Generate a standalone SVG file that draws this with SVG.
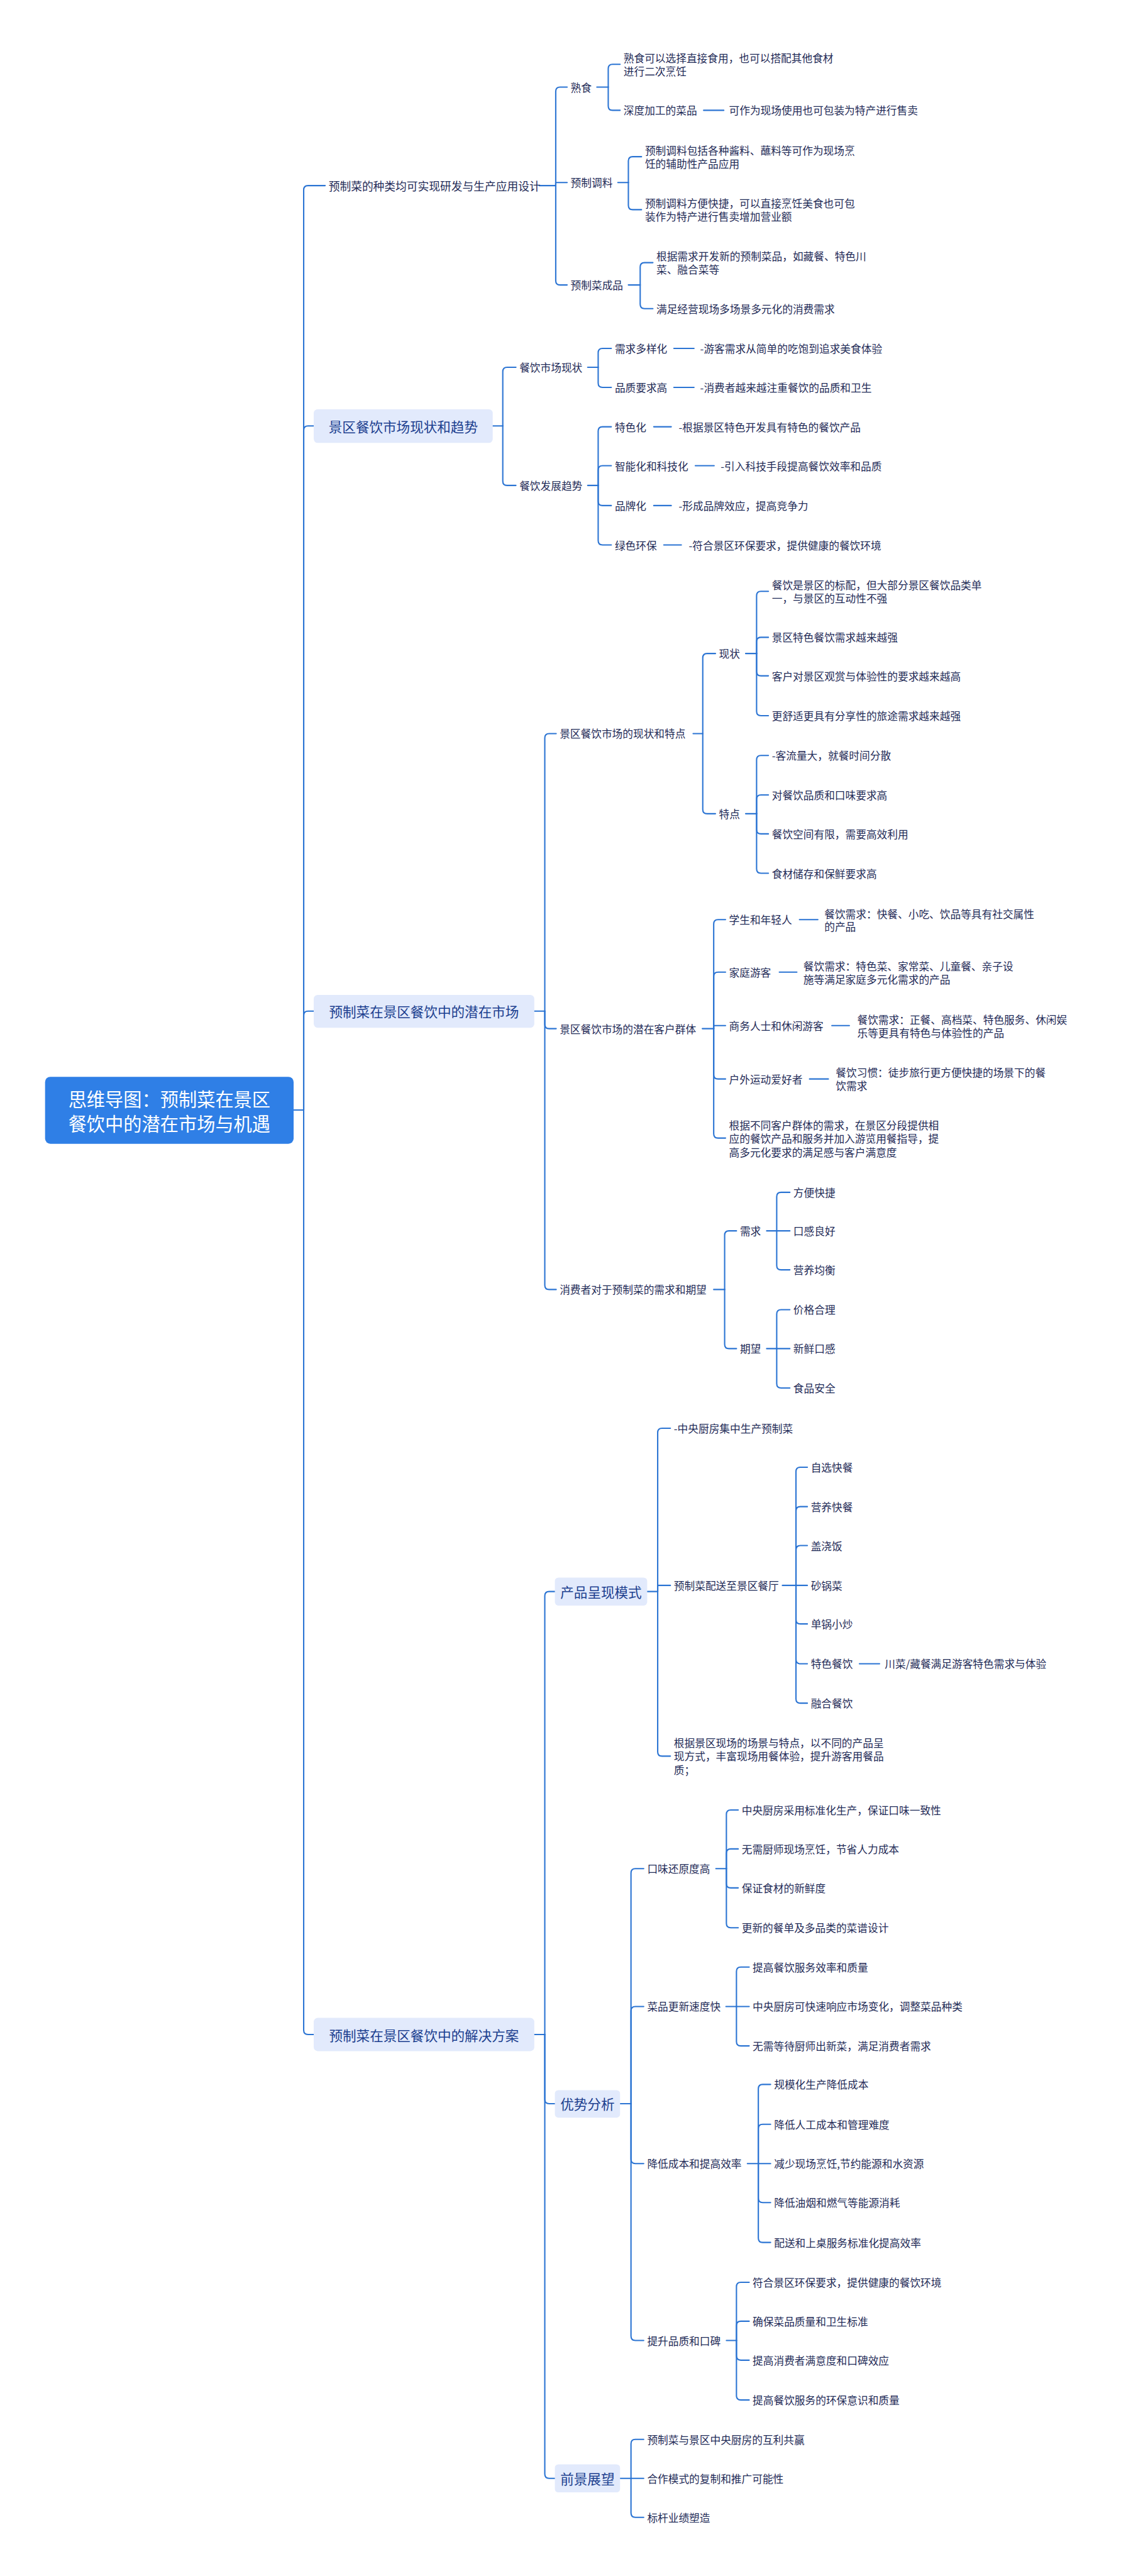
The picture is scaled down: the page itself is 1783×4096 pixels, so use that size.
<svg xmlns="http://www.w3.org/2000/svg" width="1783" height="4096" viewBox="0 0 1783 4096">
<style>
.c{fill:none;stroke:#2b74d3;stroke-width:3;stroke-linecap:round;stroke-linejoin:round}
text{font-family:"Noto Sans CJK SC","Noto Sans",sans-serif;dominant-baseline:central}
.t{font-size:24px;fill:#1f2b57}
.ta{font-size:25.5px;fill:#1f2b57}
.b1{fill:#e2eafc}
.bt{font-size:31px;fill:#1c3f8f;text-anchor:middle}
.rt{font-size:42px;fill:#ffffff;text-anchor:middle}
</style>
<rect width="1783" height="4096" fill="#ffffff"/>
<g transform="scale(0.696)">
<g id="connectors">
<path class="c" d="M671 2536 H694"/>
<path class="c" d="M694 2536 V434 Q694 424 704 424 H743"/>
<path class="c" d="M694 2536 V983 Q694 973 704 973 H717"/>
<path class="c" d="M694 2536 V2320 Q694 2310 704 2310 H717"/>
<path class="c" d="M694 2536 V4638 Q694 4648 704 4648 H717"/>
<!-- A -->
<path class="c" d="M1232 424 H1270"/>
<path class="c" d="M1270 424 V209 Q1270 199 1280 199 H1296"/>
<path class="c" d="M1270 424 V417 H1296"/>
<path class="c" d="M1270 424 V641 Q1270 651 1280 651 H1296"/>
<path class="c" d="M1364 199 H1390"/>
<path class="c" d="M1390 199 V157 Q1390 147 1400 147 H1417"/>
<path class="c" d="M1390 199 V242 Q1390 252 1400 252 H1417"/>
<path class="c" d="M1608 252 H1654"/>
<path class="c" d="M1412 417 H1436"/>
<path class="c" d="M1436 417 V368 Q1436 358 1446 358 H1466"/>
<path class="c" d="M1436 417 V469 Q1436 479 1446 479 H1466"/>
<path class="c" d="M1436 651 H1463"/>
<path class="c" d="M1463 651 V610 Q1463 600 1473 600 H1492"/>
<path class="c" d="M1463 651 V695 Q1463 705 1473 705 H1492"/>
<!-- B -->
<path class="c" d="M1126 973 H1149"/>
<path class="c" d="M1149 973 V849 Q1149 839 1159 839 H1179"/>
<path class="c" d="M1149 973 V1099 Q1149 1109 1159 1109 H1179"/>
<path class="c" d="M1343 839 H1367"/>
<path class="c" d="M1367 839 V806 Q1367 796 1377 796 H1397"/>
<path class="c" d="M1367 839 V875 Q1367 885 1377 885 H1397"/>
<path class="c" d="M1540 796 H1586"/>
<path class="c" d="M1540 885 H1586"/>
<path class="c" d="M1343 1109 H1367"/>
<path class="c" d="M1367 1109 V985 Q1367 975 1377 975 H1397"/>
<path class="c" d="M1367 1109 V1074 Q1367 1064 1377 1064 H1397"/>
<path class="c" d="M1367 1109 V1145 Q1367 1155 1377 1155 H1397"/>
<path class="c" d="M1367 1109 V1235 Q1367 1245 1377 1245 H1397"/>
<path class="c" d="M1494 975 H1534"/>
<path class="c" d="M1589 1064 H1632"/>
<path class="c" d="M1494 1155 H1534"/>
<path class="c" d="M1517 1245 H1557"/>
<!-- C -->
<path class="c" d="M1221 2310 H1245"/>
<path class="c" d="M1245 2310 V1686 Q1245 1676 1255 1676 H1271"/>
<path class="c" d="M1245 2310 V2340 Q1245 2350 1255 2350 H1271"/>
<path class="c" d="M1245 2310 V2936 Q1245 2946 1255 2946 H1271"/>
<path class="c" d="M1584 1676 H1606"/>
<path class="c" d="M1606 1676 V1503 Q1606 1493 1616 1493 H1635"/>
<path class="c" d="M1606 1676 V1849 Q1606 1859 1616 1859 H1635"/>
<path class="c" d="M1704 1493 H1729"/>
<path class="c" d="M1729 1493 V1361 Q1729 1351 1739 1351 H1756"/>
<path class="c" d="M1729 1493 V1466 Q1729 1456 1739 1456 H1756"/>
<path class="c" d="M1729 1493 V1534 Q1729 1544 1739 1544 H1756"/>
<path class="c" d="M1729 1493 V1625 Q1729 1635 1739 1635 H1756"/>
<path class="c" d="M1704 1859 H1729"/>
<path class="c" d="M1729 1859 V1736 Q1729 1726 1739 1726 H1756"/>
<path class="c" d="M1729 1859 V1826 Q1729 1816 1739 1816 H1756"/>
<path class="c" d="M1729 1859 V1895 Q1729 1905 1739 1905 H1756"/>
<path class="c" d="M1729 1859 V1985 Q1729 1995 1739 1995 H1756"/>
<path class="c" d="M1605 2350 H1631"/>
<path class="c" d="M1631 2350 V2111 Q1631 2101 1641 2101 H1658"/>
<path class="c" d="M1631 2350 V2231 Q1631 2221 1641 2221 H1658"/>
<path class="c" d="M1631 2350 V2343 H1658"/>
<path class="c" d="M1631 2350 V2455 Q1631 2465 1641 2465 H1658"/>
<path class="c" d="M1631 2350 V2590 Q1631 2600 1641 2600 H1658"/>
<path class="c" d="M1827 2101 H1869"/>
<path class="c" d="M1781 2221 H1821"/>
<path class="c" d="M1901 2343 H1941"/>
<path class="c" d="M1850 2465 H1893"/>
<path class="c" d="M1631 2946 H1656"/>
<path class="c" d="M1656 2946 V2822 Q1656 2812 1666 2812 H1683"/>
<path class="c" d="M1656 2946 V3071 Q1656 3081 1666 3081 H1683"/>
<path class="c" d="M1752 2812 H1775"/>
<path class="c" d="M1775 2812 V2734 Q1775 2724 1785 2724 H1805"/>
<path class="c" d="M1775 2812 H1805"/>
<path class="c" d="M1775 2812 V2891 Q1775 2901 1785 2901 H1805"/>
<path class="c" d="M1752 3081 H1775"/>
<path class="c" d="M1775 3081 V3002 Q1775 2992 1785 2992 H1805"/>
<path class="c" d="M1775 3081 H1805"/>
<path class="c" d="M1775 3081 V3161 Q1775 3171 1785 3171 H1805"/>
<!-- D -->
<path class="c" d="M1221 4648 H1245"/>
<path class="c" d="M1245 4648 V3646 Q1245 3636 1255 3636 H1268"/>
<path class="c" d="M1245 4648 V4796 Q1245 4806 1255 4806 H1268"/>
<path class="c" d="M1245 4648 V5652 Q1245 5662 1255 5662 H1268"/>
<path class="c" d="M1479 3636 H1503"/>
<path class="c" d="M1503 3636 V3273 Q1503 3263 1513 3263 H1532"/>
<path class="c" d="M1503 3636 V3622 H1532"/>
<path class="c" d="M1503 3636 V4002 Q1503 4012 1513 4012 H1532"/>
<path class="c" d="M1788 3622 H1819"/>
<path class="c" d="M1819 3622 V3362 Q1819 3352 1829 3352 H1845"/>
<path class="c" d="M1819 3622 V3452 Q1819 3442 1829 3442 H1845"/>
<path class="c" d="M1819 3622 V3541 Q1819 3531 1829 3531 H1845"/>
<path class="c" d="M1819 3622 H1845"/>
<path class="c" d="M1819 3622 V3700 Q1819 3710 1829 3710 H1845"/>
<path class="c" d="M1819 3622 V3791 Q1819 3801 1829 3801 H1845"/>
<path class="c" d="M1819 3622 V3881 Q1819 3891 1829 3891 H1845"/>
<path class="c" d="M1964 3801 H2010"/>
<path class="c" d="M1417 4806 H1442"/>
<path class="c" d="M1442 4806 V4279 Q1442 4269 1452 4269 H1471"/>
<path class="c" d="M1442 4806 V4594 Q1442 4584 1452 4584 H1471"/>
<path class="c" d="M1442 4806 V4933 Q1442 4943 1452 4943 H1471"/>
<path class="c" d="M1442 4806 V5337 Q1442 5347 1452 5347 H1471"/>
<path class="c" d="M1636 4269 H1660"/>
<path class="c" d="M1660 4269 V4145 Q1660 4135 1670 4135 H1687"/>
<path class="c" d="M1660 4269 V4234 Q1660 4224 1670 4224 H1687"/>
<path class="c" d="M1660 4269 V4303 Q1660 4313 1670 4313 H1687"/>
<path class="c" d="M1660 4269 V4394 Q1660 4404 1670 4404 H1687"/>
<path class="c" d="M1659 4584 H1683"/>
<path class="c" d="M1683 4584 V4504 Q1683 4494 1693 4494 H1712"/>
<path class="c" d="M1683 4584 H1712"/>
<path class="c" d="M1683 4584 V4664 Q1683 4674 1693 4674 H1712"/>
<path class="c" d="M1708 4943 H1733"/>
<path class="c" d="M1733 4943 V4772 Q1733 4762 1743 4762 H1761"/>
<path class="c" d="M1733 4943 V4863 Q1733 4853 1743 4853 H1761"/>
<path class="c" d="M1733 4943 H1761"/>
<path class="c" d="M1733 4943 V5022 Q1733 5032 1743 5032 H1761"/>
<path class="c" d="M1733 4943 V5113 Q1733 5123 1743 5123 H1761"/>
<path class="c" d="M1660 5347 H1683"/>
<path class="c" d="M1683 5347 V5224 Q1683 5214 1693 5214 H1712"/>
<path class="c" d="M1683 5347 V5313 Q1683 5303 1693 5303 H1712"/>
<path class="c" d="M1683 5347 V5382 Q1683 5392 1693 5392 H1712"/>
<path class="c" d="M1683 5347 V5473 Q1683 5483 1693 5483 H1712"/>
<path class="c" d="M1417 5662 H1442"/>
<path class="c" d="M1442 5662 V5583 Q1442 5573 1452 5573 H1471"/>
<path class="c" d="M1442 5662 H1471"/>
<path class="c" d="M1442 5662 V5741 Q1442 5751 1452 5751 H1471"/>
</g>

<g id="root">
<rect x="103" y="2460" width="568" height="153" rx="12" fill="#2f7fe6"/>
<text class="rt"><tspan x="387" y="2508">思维导图：预制菜在景区</tspan><tspan x="387" y="2565">餐饮中的潜在市场与机遇</tspan></text>
</g>

<!-- Branch A -->
<g id="a"><text class="ta" x="751" y="424">预制菜的种类均可实现研发与生产应用设计</text></g>
<g id="a1"><text class="t" x="1304" y="199">熟食</text></g>
<g id="a1-1"><text class="t"><tspan x="1425" y="132">熟食可以选择直接食用，也可以搭配其他食材</tspan><tspan x="1425" y="162">进行二次烹饪</tspan></text></g>
<g id="a1-2"><text class="t" x="1425" y="252">深度加工的菜品</text></g>
<g id="a1-2-1"><text class="t" x="1666" y="252">可作为现场使用也可包装为特产进行售卖</text></g>
<g id="a2"><text class="t" x="1304" y="417">预制调料</text></g>
<g id="a2-1"><text class="t"><tspan x="1474" y="343">预制调料包括各种酱料、蘸料等可作为现场烹</tspan><tspan x="1474" y="373">饪的辅助性产品应用</tspan></text></g>
<g id="a2-2"><text class="t"><tspan x="1474" y="464">预制调料方便快捷，可以直接烹饪美食也可包</tspan><tspan x="1474" y="494">装作为特产进行售卖增加营业额</tspan></text></g>
<g id="a3"><text class="t" x="1304" y="651">预制菜成品</text></g>
<g id="a3-1"><text class="t"><tspan x="1500" y="585">根据需求开发新的预制菜品，如藏餐、特色川</tspan><tspan x="1500" y="615">菜、融合菜等</tspan></text></g>
<g id="a3-2"><text class="t" x="1500" y="705">满足经营现场多场景多元化的消费需求</text></g>

<!-- Branch B -->
<g id="b"><rect class="b1" x="717" y="935" width="409" height="77" rx="9"/><text class="bt" x="921.5" y="973">景区餐饮市场现状和趋势</text></g>
<g id="b1"><text class="t" x="1187" y="839">餐饮市场现状</text></g>
<g id="b1-1"><text class="t" x="1405" y="796">需求多样化</text></g>
<g id="b1-1-1"><text class="t" x="1600" y="796">-游客需求从简单的吃饱到追求美食体验</text></g>
<g id="b1-2"><text class="t" x="1405" y="885">品质要求高</text></g>
<g id="b1-2-1"><text class="t" x="1600" y="885">-消费者越来越注重餐饮的品质和卫生</text></g>
<g id="b2"><text class="t" x="1187" y="1109">餐饮发展趋势</text></g>
<g id="b2-1"><text class="t" x="1405" y="975">特色化</text></g>
<g id="b2-1-1"><text class="t" x="1551" y="975">-根据景区特色开发具有特色的餐饮产品</text></g>
<g id="b2-2"><text class="t" x="1405" y="1064">智能化和科技化</text></g>
<g id="b2-2-1"><text class="t" x="1647" y="1064">-引入科技手段提高餐饮效率和品质</text></g>
<g id="b2-3"><text class="t" x="1405" y="1155">品牌化</text></g>
<g id="b2-3-1"><text class="t" x="1551" y="1155">-形成品牌效应，提高竞争力</text></g>
<g id="b2-4"><text class="t" x="1405" y="1245">绿色环保</text></g>
<g id="b2-4-1"><text class="t" x="1574" y="1245">-符合景区环保要求，提供健康的餐饮环境</text></g>

<!-- Branch C -->
<g id="c"><rect class="b1" x="717" y="2273" width="504" height="75" rx="9"/><text class="bt" x="969" y="2310">预制菜在景区餐饮中的潜在市场</text></g>
<g id="c1"><text class="t" x="1279" y="1676">景区餐饮市场的现状和特点</text></g>
<g id="c1-1"><text class="t" x="1643" y="1493">现状</text></g>
<g id="c1-1-1"><text class="t"><tspan x="1764" y="1336">餐饮是景区的标配，但大部分景区餐饮品类单</tspan><tspan x="1764" y="1366">一，与景区的互动性不强</tspan></text></g>
<g id="c1-1-2"><text class="t" x="1764" y="1456">景区特色餐饮需求越来越强</text></g>
<g id="c1-1-3"><text class="t" x="1764" y="1544">客户对景区观赏与体验性的要求越来越高</text></g>
<g id="c1-1-4"><text class="t" x="1764" y="1635">更舒适更具有分享性的旅途需求越来越强</text></g>
<g id="c1-2"><text class="t" x="1643" y="1859">特点</text></g>
<g id="c1-2-1"><text class="t" x="1764" y="1726">-客流量大，就餐时间分散</text></g>
<g id="c1-2-2"><text class="t" x="1764" y="1816">对餐饮品质和口味要求高</text></g>
<g id="c1-2-3"><text class="t" x="1764" y="1905">餐饮空间有限，需要高效利用</text></g>
<g id="c1-2-4"><text class="t" x="1764" y="1995">食材储存和保鲜要求高</text></g>
<g id="c2"><text class="t" x="1279" y="2350">景区餐饮市场的潜在客户群体</text></g>
<g id="c2-1"><text class="t" x="1666" y="2101">学生和年轻人</text></g>
<g id="c2-1-1"><text class="t"><tspan x="1884" y="2087">餐饮需求：快餐、小吃、饮品等具有社交属性</tspan><tspan x="1884" y="2117">的产品</tspan></text></g>
<g id="c2-2"><text class="t" x="1666" y="2221">家庭游客</text></g>
<g id="c2-2-1"><text class="t"><tspan x="1836" y="2207">餐饮需求：特色菜、家常菜、儿童餐、亲子设</tspan><tspan x="1836" y="2237">施等满足家庭多元化需求的产品</tspan></text></g>
<g id="c2-3"><text class="t" x="1666" y="2343">商务人士和休闲游客</text></g>
<g id="c2-3-1"><text class="t"><tspan x="1959" y="2329">餐饮需求：正餐、高档菜、特色服务、休闲娱</tspan><tspan x="1959" y="2359">乐等更具有特色与体验性的产品</tspan></text></g>
<g id="c2-4"><text class="t" x="1666" y="2465">户外运动爱好者</text></g>
<g id="c2-4-1"><text class="t"><tspan x="1910" y="2450">餐饮习惯：徒步旅行更方便快捷的场景下的餐</tspan><tspan x="1910" y="2480">饮需求</tspan></text></g>
<g id="c2-5"><text class="t"><tspan x="1666" y="2570">根据不同客户群体的需求，在景区分段提供相</tspan><tspan x="1666" y="2601">应的餐饮产品和服务并加入游览用餐指导，提</tspan><tspan x="1666" y="2632">高多元化要求的满足感与客户满意度</tspan></text></g>
<g id="c3"><text class="t" x="1279" y="2946">消费者对于预制菜的需求和期望</text></g>
<g id="c3-1"><text class="t" x="1691" y="2812">需求</text></g>
<g id="c3-1-1"><text class="t" x="1813" y="2724">方便快捷</text></g>
<g id="c3-1-2"><text class="t" x="1813" y="2812">口感良好</text></g>
<g id="c3-1-3"><text class="t" x="1813" y="2901">营养均衡</text></g>
<g id="c3-2"><text class="t" x="1691" y="3081">期望</text></g>
<g id="c3-2-1"><text class="t" x="1813" y="2992">价格合理</text></g>
<g id="c3-2-2"><text class="t" x="1813" y="3081">新鲜口感</text></g>
<g id="c3-2-3"><text class="t" x="1813" y="3171">食品安全</text></g>

<!-- Branch D -->
<g id="d"><rect class="b1" x="717" y="4610" width="504" height="76" rx="9"/><text class="bt" x="969" y="4648">预制菜在景区餐饮中的解决方案</text></g>
<g id="d1"><rect class="b1" x="1268" y="3604" width="211" height="64" rx="8"/><text class="bt" x="1373.5" y="3636">产品呈现模式</text></g>
<g id="d1-1"><text class="t" x="1540" y="3263">-中央厨房集中生产预制菜</text></g>
<g id="d1-2"><text class="t" x="1540" y="3622">预制菜配送至景区餐厅</text></g>
<g id="d1-2-1"><text class="t" x="1853" y="3352">自选快餐</text></g>
<g id="d1-2-2"><text class="t" x="1853" y="3442">营养快餐</text></g>
<g id="d1-2-3"><text class="t" x="1853" y="3531">盖浇饭</text></g>
<g id="d1-2-4"><text class="t" x="1853" y="3622">砂锅菜</text></g>
<g id="d1-2-5"><text class="t" x="1853" y="3710">单锅小炒</text></g>
<g id="d1-2-6"><text class="t" x="1853" y="3801">特色餐饮</text></g>
<g id="d1-2-6-1"><text class="t" x="2022" y="3801">川菜/藏餐满足游客特色需求与体验</text></g>
<g id="d1-2-7"><text class="t" x="1853" y="3891">融合餐饮</text></g>
<g id="d1-3"><text class="t"><tspan x="1540" y="3981">根据景区现场的场景与特点，以不同的产品呈</tspan><tspan x="1540" y="4012">现方式，丰富现场用餐体验，提升游客用餐品</tspan><tspan x="1540" y="4043">质；</tspan></text></g>
<g id="d2"><rect class="b1" x="1268" y="4775" width="149" height="63" rx="8"/><text class="bt" x="1342.5" y="4806">优势分析</text></g>
<g id="d2-1"><text class="t" x="1479" y="4269">口味还原度高</text></g>
<g id="d2-1-1"><text class="t" x="1695" y="4135">中央厨房采用标准化生产，保证口味一致性</text></g>
<g id="d2-1-2"><text class="t" x="1695" y="4224">无需厨师现场烹饪，节省人力成本</text></g>
<g id="d2-1-3"><text class="t" x="1695" y="4313">保证食材的新鲜度</text></g>
<g id="d2-1-4"><text class="t" x="1695" y="4404">更新的餐单及多品类的菜谱设计</text></g>
<g id="d2-2"><text class="t" x="1479" y="4584">菜品更新速度快</text></g>
<g id="d2-2-1"><text class="t" x="1720" y="4494">提高餐饮服务效率和质量</text></g>
<g id="d2-2-2"><text class="t" x="1720" y="4584">中央厨房可快速响应市场变化，调整菜品种类</text></g>
<g id="d2-2-3"><text class="t" x="1720" y="4674">无需等待厨师出新菜，满足消费者需求</text></g>
<g id="d2-3"><text class="t" x="1479" y="4943">降低成本和提高效率</text></g>
<g id="d2-3-1"><text class="t" x="1769" y="4762">规模化生产降低成本</text></g>
<g id="d2-3-2"><text class="t" x="1769" y="4853">降低人工成本和管理难度</text></g>
<g id="d2-3-3"><text class="t" x="1769" y="4943">减少现场烹饪,节约能源和水资源</text></g>
<g id="d2-3-4"><text class="t" x="1769" y="5032">降低油烟和燃气等能源消耗</text></g>
<g id="d2-3-5"><text class="t" x="1769" y="5123">配送和上桌服务标准化提高效率</text></g>
<g id="d2-4"><text class="t" x="1479" y="5347">提升品质和口碑</text></g>
<g id="d2-4-1"><text class="t" x="1720" y="5214">符合景区环保要求，提供健康的餐饮环境</text></g>
<g id="d2-4-2"><text class="t" x="1720" y="5303">确保菜品质量和卫生标准</text></g>
<g id="d2-4-3"><text class="t" x="1720" y="5392">提高消费者满意度和口碑效应</text></g>
<g id="d2-4-4"><text class="t" x="1720" y="5483">提高餐饮服务的环保意识和质量</text></g>
<g id="d3"><rect class="b1" x="1268" y="5630" width="149" height="64" rx="8"/><text class="bt" x="1342.5" y="5662">前景展望</text></g>
<g id="d3-1"><text class="t" x="1479" y="5573">预制菜与景区中央厨房的互利共赢</text></g>
<g id="d3-2"><text class="t" x="1479" y="5662">合作模式的复制和推广可能性</text></g>
<g id="d3-3"><text class="t" x="1479" y="5751">标杆业绩塑造</text></g>
</g>
</svg>
